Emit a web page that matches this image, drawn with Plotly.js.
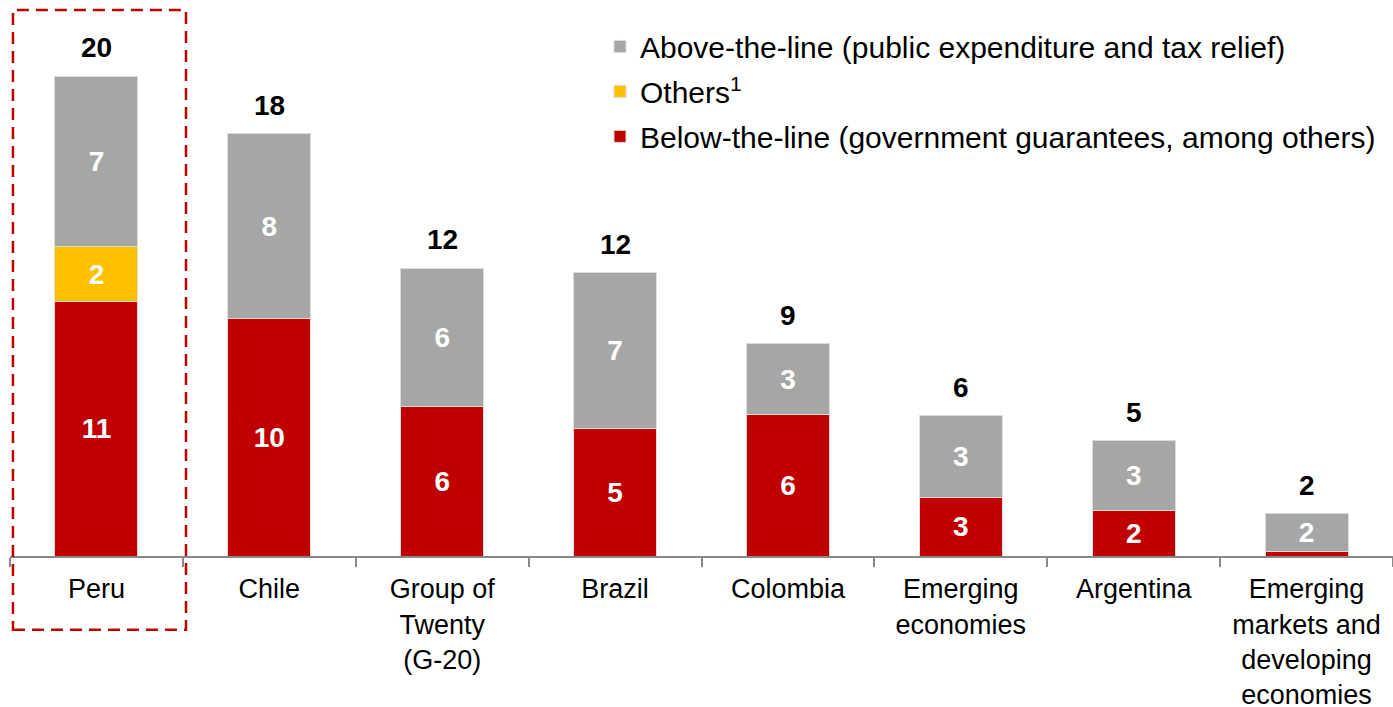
<!DOCTYPE html>
<html>
<head>
<meta charset="utf-8">
<script src="https://cdn.plot.ly/plotly-3.0.1.min.js"></script>
<style>html,body{margin:0;padding:0;background:#fff;}#chart{width:1393px;height:707px;}</style>
</head>
<body>
<div id="chart"></div>
<script>
const categories = ["Peru", "Chile", "Group of<br>Twenty<br>(G-20)", "Brazil", "Colombia", "Emerging<br>economies", "Argentina", "Emerging<br>markets and<br>developing<br>economies"];
const belowValues = [10.6, 9.9, 6.25, 5.3, 5.9, 2.45, 1.9, 0.17];
const othersValues = [2.3, 0, 0, 0, 0, 0, 0, 0];
const aboveValues = [7.1, 7.7, 5.75, 6.5, 2.95, 3.4, 2.9, 1.6];
const belowLabels = ["11", "10", "6", "5", "6", "3", "2", ""];
const othersLabels = ["2", "", "", "", "", "", "", ""];
const aboveLabels = ["7", "8", "6", "7", "3", "3", "3", "2"];
const totalLabels = ["20", "18", "12", "12", "9", "6", "5", "2"];
const seriesNames = ["Below-the-line (government guarantees, among others)", "Others<sup>1</sup>", "Above-the-line (public expenditure and tax relief)"];

const FONT = "Arial, 'Liberation Sans', sans-serif";
const inFont = {family: FONT, size: 28, color: "#ffffff", weight: "bold"};
const lineStyle = {color: "#dcdcdc", width: 1};

function barTrace(vals, labels, name, color, rank) {
  return {
    type: "bar", x: categories, y: vals, name: name, text: labels,
    textposition: "inside", insidetextanchor: "middle", constraintext: "none",
    textangle: 0, textfont: inFont, legendgroup: "g" + rank, legendrank: rank,
    marker: {color: color, line: lineStyle}, hoverinfo: "skip", cliponaxis: false
  };
}

const traces = [
  barTrace(belowValues, belowLabels, seriesNames[0], "#C00000", 3),
  barTrace(othersValues, othersLabels, seriesNames[1], "#FFC000", 2),
  barTrace(aboveValues, aboveLabels, seriesNames[2], "#A6A6A6", 1)
];

const totals = categories.map((c, i) => belowValues[i] + othersValues[i] + aboveValues[i]);
const annotations = categories.map((c, i) => ({
  x: c, y: totals[i], xref: "x", yref: "y", text: "<b>" + totalLabels[i] + "</b>",
  showarrow: false, yanchor: "bottom", yshift: 11,
  font: {family: FONT, size: 28, color: "#000000"}
}));

const layout = {
  width: 1393, height: 707,
  margin: {l: 10, r: 0, t: 36, b: 151},
  paper_bgcolor: "#ffffff", plot_bgcolor: "#ffffff",
  barmode: "stack", bargap: 0.52,
  font: {family: FONT, color: "#000000"},
  xaxis: {
    type: "category", range: [-0.5, 7.5], tickson: "boundaries",
    ticks: "outside", ticklen: 9, tickwidth: 2, tickcolor: "#898989",
    showline: true, linecolor: "#898989", linewidth: 2,
    showgrid: false, zeroline: false, automargin: false,
    tickfont: {family: FONT, size: 27, color: "#000000"}, ticklabelstandoff: 8
  },
  yaxis: {range: [0, 21.67], visible: false, showgrid: false, zeroline: false, fixedrange: true},
  showlegend: true,
  legend: {
    x: 0.4266, xanchor: "left", y: 1.03, yanchor: "top",
    traceorder: "grouped", tracegroupgap: 3,
    font: {family: FONT, size: 30, color: "#000000"},
    bgcolor: "rgba(0,0,0,0)", itemclick: false
  },
  annotations: annotations,
  shapes: [{
    type: "rect", xref: "x", yref: "paper",
    x0: -0.483, x1: 0.518, y0: -0.142, y1: 1.05,
    line: {color: "#C00000", width: 2.5, dash: "12px,7px"}, fillcolor: "rgba(0,0,0,0)"
  }]
};

Plotly.newPlot("chart", traces, layout, {displayModeBar: false, staticPlot: true});
</script>
</body>
</html>
